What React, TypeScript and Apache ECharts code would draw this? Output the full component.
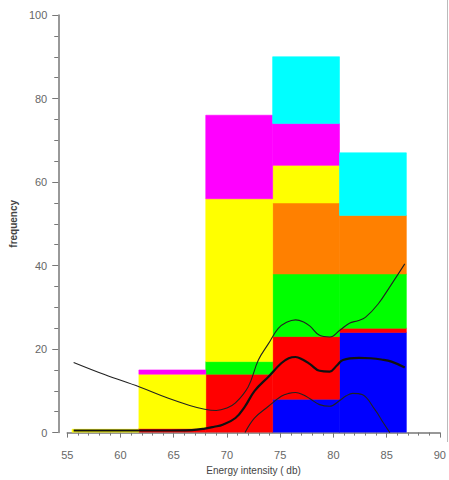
import React, { useEffect, useRef } from "react";
import * as echarts from "echarts";

// Histogram bin edges (Energy intensity, db)
const binEdges = [55.45, 61.73, 68.01, 74.29, 80.57, 86.85];

// Stacked frequencies per bin, bottom to top
const stackNames = ["blue", "red", "green", "orange", "yellow", "magenta", "cyan"];
const stackColors = ["#0000ff", "#ff0000", "#00ff00", "#ff8000", "#ffff00", "#ff00ff", "#00ffff"];
const blueCounts = [0, 0, 0, 8, 24];
const redCounts = [0, 1, 14, 15, 1];
const greenCounts = [0, 0, 3, 15, 13];
const orangeCounts = [0, 0, 0, 17, 14];
const yellowCounts = [0.8, 13, 39, 9, 0];
const magentaCounts = [0, 1, 20, 10, 0];
const cyanCounts = [0, 0, 0, 16, 15];
const allCounts = [blueCounts, redCounts, greenCounts, orangeCounts, yellowCounts, magentaCounts, cyanCounts];

// Curves [x, y]
const upperCurve: [number, number][] = [
  [55.6, 16.8], [58.5, 13.9], [61.8, 10.9], [64.5, 8.2], [66.5, 6.5], [67.9, 5.6], [69.0, 5.3],
  [70.0, 5.9], [70.8, 7.1], [72.0, 11.0], [72.95, 17.4], [73.9, 21.3], [74.8, 24.9], [75.6, 26.4],
  [76.45, 27.0], [77.2, 26.5], [77.8, 25.5], [78.7, 23.3], [79.65, 22.9], [80.6, 24.5], [81.5, 26.2],
  [82.3, 26.8], [83.0, 27.6], [84.2, 30.8], [85.45, 35.5], [86.7, 40.4],
];
const meanCurve: [number, number][] = [
  [55.6, 0.5], [60.0, 0.5], [64.0, 0.5], [66.7, 0.6], [67.8, 0.9], [68.8, 1.4], [69.6, 1.9],
  [70.8, 3.5], [71.7, 6.3], [72.6, 10.0], [73.9, 13.4], [75.1, 16.6], [75.8, 17.8], [76.45, 18.1],
  [77.1, 17.5], [77.8, 16.4], [78.7, 14.8], [79.65, 14.6], [80.3, 16.0], [80.9, 17.4], [82.4, 17.9],
  [83.5, 17.8], [84.5, 17.5], [85.45, 17.0], [86.7, 15.6],
];
const lowerCurve: [number, number][] = [
  [71.7, 0.0], [72.6, 3.5], [73.9, 6.3], [75.1, 8.7], [75.8, 9.4], [76.45, 9.6], [77.2, 9.0],
  [77.8, 8.1], [78.7, 6.7], [79.65, 6.3], [80.6, 7.7], [81.2, 8.8], [81.8, 9.4], [82.7, 9.1],
  [83.9, 5.5], [84.7, 2.3], [85.3, 0.0],
];

const xTicks = { min: 55, max: 90, interval: 5 };
const yTicks = { min: 0, max: 100, interval: 20 };

const FONT = "'Liberation Sans', Arial, sans-serif";

function buildRectSeries() {
  const series: any[] = [];
  const base = binEdges.slice(0, -1).map(() => 0);
  allCounts.forEach((counts, si) => {
    const data: number[][] = [];
    counts.forEach((c, bi) => {
      if (c > 0) {
        data.push([binEdges[bi], binEdges[bi + 1], base[bi], base[bi] + c]);
        base[bi] += c;
      }
    });
    const color = stackColors[si];
    series.push({
      type: "custom",
      name: stackNames[si],
      data,
      encode: { x: [0, 1], y: [2, 3] },
      z: 1,
      clip: true,
      renderItem: (params: any, api: any) => {
        const p0 = api.coord([api.value(0), api.value(3)]);
        const p1 = api.coord([api.value(1), api.value(2)]);
        return {
          type: "rect",
          shape: { x: p0[0], y: p0[1], width: p1[0] - p0[0], height: p1[1] - p0[1] },
          style: { fill: color, stroke: color, lineWidth: 0.6 },
        };
      },
    });
  });
  return series;
}

export default function App() {
  const ref = useRef<HTMLDivElement>(null);
  useEffect(() => {
    if (!ref.current) return;
    const chart = echarts.init(ref.current, null, { renderer: "svg" });
    const axisLineStyle = { color: "#777", width: 1.5 };
    chart.setOption({
      animation: false,
      backgroundColor: "#fff",
      grid: { left: 62, right: 7.5, top: 15, bottom: 43.5, containLabel: false },
      xAxis: {
        type: "value",
        min: xTicks.min,
        max: xTicks.max,
        interval: xTicks.interval,
        offset: 7.5,
        name: "Energy intensity ( db)",
        nameLocation: "middle",
        nameGap: 23,
        nameTextStyle: { fontFamily: FONT, fontSize: 10, color: "#444" },
        axisLine: { show: true, lineStyle: axisLineStyle },
        axisTick: { show: true, inside: false, length: 5, lineStyle: { color: "#777", width: 1 } },
        minorTick: { show: true, splitNumber: 5, length: 3, lineStyle: { color: "#777", width: 1 } },
        axisLabel: { fontFamily: FONT, fontSize: 11, color: "#666", margin: 9 },
        splitLine: { show: false },
      },
      yAxis: {
        type: "value",
        min: yTicks.min,
        max: yTicks.max,
        interval: yTicks.interval,
        offset: 9,
        name: "frequency",
        nameLocation: "middle",
        nameGap: 34,
        nameRotate: 90,
        nameTextStyle: { fontFamily: FONT, fontSize: 10, color: "#444", fontWeight: "bold" },
        axisLine: { show: true, lineStyle: axisLineStyle },
        axisTick: { show: true, inside: false, length: 6, lineStyle: { color: "#777", width: 1 } },
        minorTick: { show: true, splitNumber: 4, length: 4, lineStyle: { color: "#777", width: 1 } },
        axisLabel: { fontFamily: FONT, fontSize: 11, color: "#666", margin: 11 },
        splitLine: { show: false },
      },
      graphic: [
        {
          type: "line",
          shape: { x1: 447.5, y1: 0, x2: 447.5, y2: 442 },
          style: { stroke: "#bbb", lineWidth: 1 },
        },
      ],
      series: [
        ...buildRectSeries(),
        {
          type: "line",
          name: "upper",
          data: upperCurve,
          smooth: 0.4,
          showSymbol: false,
          clip: true,
          z: 5,
          lineStyle: { color: "#222", width: 1.1 },
        },
        {
          type: "line",
          name: "mean",
          data: meanCurve,
          smooth: 0.4,
          showSymbol: false,
          clip: true,
          z: 6,
          lineStyle: { color: "#111", width: 2.2 },
        },
        {
          type: "line",
          name: "lower",
          data: lowerCurve,
          smooth: 0.4,
          showSymbol: false,
          clip: true,
          z: 5,
          lineStyle: { color: "#222", width: 1.1 },
        },
      ],
    });
    return () => chart.dispose();
  }, []);
  return <div ref={ref} style={{ width: 449, height: 480, position: "absolute", left: 0, top: 0 }} />;
}
